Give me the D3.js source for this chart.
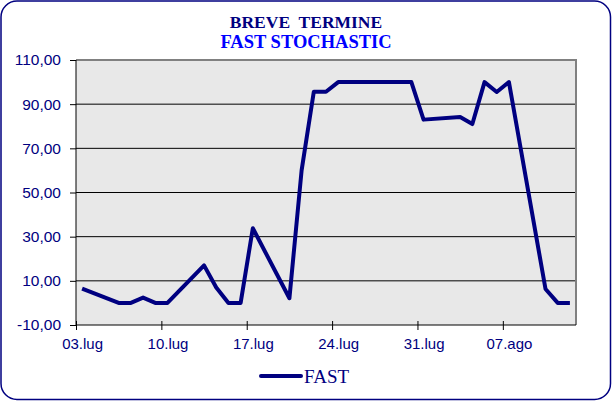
<!DOCTYPE html>
<html>
<head>
<meta charset="utf-8">
<script src="https://cdn.jsdelivr.net/npm/d3@7"></script>
<style>
  body { margin: 0; background: #fff; }
  svg { display: block; }
</style>
</head>
<body>
<svg id="chart"></svg>
<script>
// Data (trading days only)
const dates = [
  "2009-07-03",
  "2009-07-06", "2009-07-07", "2009-07-08", "2009-07-09", "2009-07-10",
  "2009-07-13", "2009-07-14", "2009-07-15", "2009-07-16", "2009-07-17",
  "2009-07-20", "2009-07-21", "2009-07-22", "2009-07-23", "2009-07-24",
  "2009-07-27", "2009-07-28", "2009-07-29", "2009-07-30", "2009-07-31",
  "2009-08-03", "2009-08-04", "2009-08-05", "2009-08-06", "2009-08-07",
  "2009-08-10", "2009-08-11", "2009-08-12"
];
const fast = [
  6.5,
  0, 0, 2.4, 0, 0,
  17, 7, 0, 0, 33.8,
  2.1, 60, 95.6, 95.6, 100,
  100, 100, 100, 100, 83,
  84.2, 81, 100, 95.5, 100,
  6.3, 0, 0
];
const tickDates = ["2009-07-03", "2009-07-10", "2009-07-17", "2009-07-24", "2009-07-31", "2009-08-07"];
const tickLabels = ["03.lug", "10.lug", "17.lug", "24.lug", "31.lug", "07.ago"];
const yTicks = [-10, 10, 30, 50, 70, 90, 110];

// Chart dimensions
var dims = {
  width: 612,
  height: 401,
  margins: { top: 60, right: 36, bottom: 76, left: 76 }
};
var plotWidth = dims.width - dims.margins.left - dims.margins.right;
var plotHeight = dims.height - dims.margins.top - dims.margins.bottom;

const navy = "#000080";
const parseDate = d3.timeParse("%Y-%m-%d");
const data = dates.map((d, i) => ({ date: d3.timeHour.offset(parseDate(d), 12), value: fast[i] }));

const svg = d3.select("#chart")
  .attr("width", dims.width)
  .attr("height", dims.height);

// Outer rounded frame
svg.append("rect")
  .attr("x", 1).attr("y", 1)
  .attr("width", dims.width - 2.5).attr("height", dims.height - 2.5)
  .attr("rx", 16).attr("ry", 16)
  .attr("fill", "#fff")
  .attr("stroke", navy)
  .attr("stroke-width", 1.5);

// Title
svg.append("text")
  .attr("x", 306).attr("y", 28)
  .attr("text-anchor", "middle")
  .style("white-space", "pre")
  .attr("font-family", "Liberation Serif, Times New Roman, serif")
  .attr("font-weight", "bold")
  .attr("font-size", 17.5)
  .attr("fill", navy)
  .text("BREVE  TERMINE");

svg.append("text")
  .attr("x", 306).attr("y", 48)
  .attr("text-anchor", "middle")
  .attr("font-family", "Liberation Serif, Times New Roman, serif")
  .attr("font-weight", "bold")
  .attr("font-size", 18.5)
  .attr("fill", "#0000ff")
  .text("FAST STOCHASTIC");

const g = svg.append("g")
  .attr("transform", `translate(${dims.margins.left},${dims.margins.top})`);

// Scales
const xScale = d3.scaleTime()
  .domain([parseDate("2009-07-03"), parseDate("2009-08-13")])
  .range([0, plotWidth]);

const yScale = d3.scaleLinear()
  .domain([-10, 110])
  .range([plotHeight, 0]);

// Plot background
g.append("rect")
  .attr("width", plotWidth)
  .attr("height", plotHeight)
  .attr("fill", "#e8e8e8");

// Gridlines
g.selectAll(".grid")
  .data(yTicks.filter(v => v > -10 && v < 110))
  .enter()
  .append("line")
  .attr("x1", 0).attr("x2", plotWidth)
  .attr("y1", d => yScale(d)).attr("y2", d => yScale(d))
  .attr("stroke", "#000")
  .attr("stroke-width", 1);

// Gray border top / right
g.append("path")
  .attr("d", `M0,${yScale(110)}H${plotWidth}V${plotHeight}`)
  .attr("fill", "none")
  .attr("stroke", "#808080")
  .attr("stroke-width", 2);

// Axes
const fmtY = d => d3.format(".2f")(d).replace(".", ",").replace("\u2212", "-");
const yAxis = d3.axisLeft(yScale)
  .tickValues(yTicks)
  .tickSize(6)
  .tickPadding(9)
  .tickFormat(fmtY);

const yG = g.append("g").call(yAxis);
yG.select(".domain").remove();
yG.selectAll("line").attr("stroke", "#000");
yG.selectAll("text")
  .attr("font-family", "Liberation Sans, Arial, sans-serif")
  .attr("font-size", 15.5)
  .attr("fill", navy);

const halfDay = xScale(d3.timeHour.offset(xScale.domain()[0], 12)) - xScale(xScale.domain()[0]);
const xAxis = d3.axisBottom(xScale)
  .tickValues(tickDates.map(parseDate))
  .tickSize(5)
  .tickFormat((d, i) => tickLabels[i]);

const xG = g.append("g")
  .attr("transform", `translate(0,${plotHeight})`)
  .call(xAxis);
xG.select(".domain").remove();
xG.selectAll("line").attr("y1", -4).attr("stroke", "#000");
xG.selectAll("text")
  .attr("x", halfDay)
  .attr("y", 13)
  .attr("font-family", "Liberation Sans, Arial, sans-serif")
  .attr("font-size", 15)
  .attr("fill", navy);

// Axis lines
g.append("line")
  .attr("x1", 0).attr("x2", 0)
  .attr("y1", 0).attr("y2", plotHeight)
  .attr("stroke", "#000");
g.append("line")
  .attr("x1", 0).attr("x2", plotWidth)
  .attr("y1", plotHeight).attr("y2", plotHeight)
  .attr("stroke", "#000");

// Series line
const line = d3.line()
  .x(d => xScale(d.date))
  .y(d => yScale(d.value));

g.append("path")
  .datum(data)
  .attr("d", line)
  .attr("fill", "none")
  .attr("stroke", navy)
  .attr("stroke-width", 4)
  .attr("stroke-linejoin", "round");

// Legend
svg.append("line")
  .attr("x1", 261).attr("x2", 301)
  .attr("y1", 376).attr("y2", 376)
  .attr("stroke", navy)
  .attr("stroke-width", 4)
  .attr("stroke-linecap", "round");

svg.append("text")
  .attr("x", 304).attr("y", 383)
  .attr("font-family", "Liberation Serif, Times New Roman, serif")
  .attr("font-size", 19)
  .attr("fill", navy)
  .text("FAST");
</script>
</body>
</html>
